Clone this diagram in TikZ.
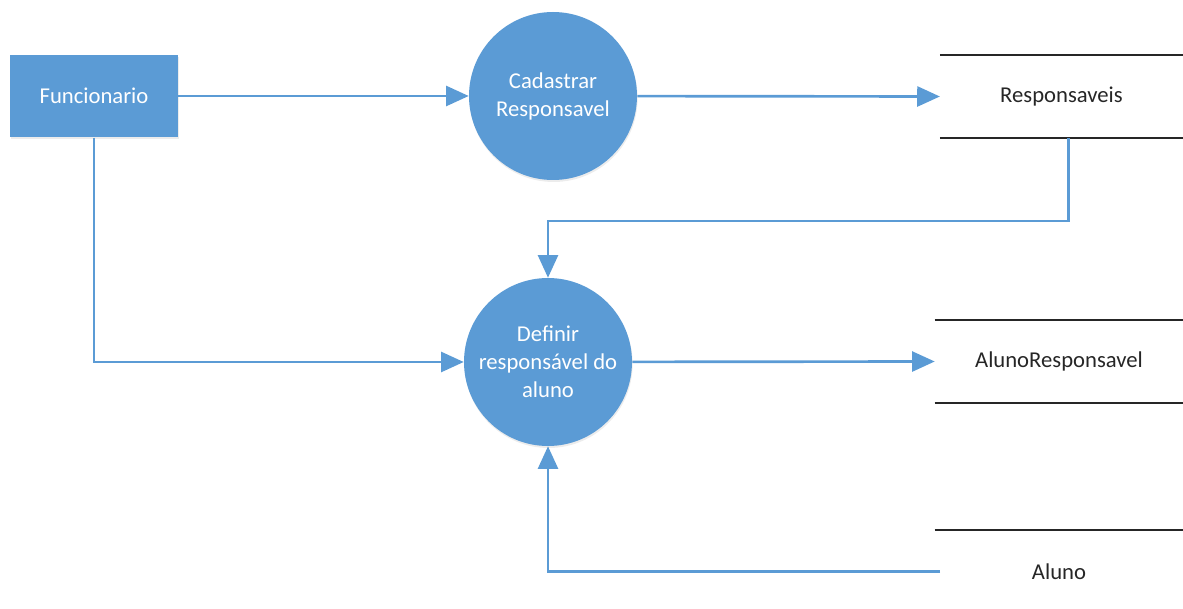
\documentclass[tikz,border=0pt]{standalone}
\usepackage{fontspec}
\setmainfont{Carlito}
\usetikzlibrary{arrows.meta, shadows}

\definecolor{dfdblue}{HTML}{5B9BD5}
\definecolor{storetext}{HTML}{262626}

\tikzset{
	entity/.style = {rectangle, fill = dfdblue, text = white, minimum width = 126pt, minimum height = 62pt, drop shadow = {opacity = 0.15, shadow xshift = 0.5pt, shadow yshift = -1.5pt}},
	process/.style = {circle, fill = dfdblue, text = white, minimum size = 126pt, inner sep = 0pt, align = center, drop shadow = {opacity = 0.15, shadow xshift = 0.5pt, shadow yshift = -1.5pt}},
	store/.style = {rectangle, text = storetext, minimum height = 62pt, inner sep = 0pt},
	storeline/.style = {draw = black!85, line width = 1.3pt},
	flow/.style = {draw = dfdblue, line width = 2pt, -{Triangle[length = 17pt, width = 15pt]}},
}

\begin{document}
\begin{tikzpicture}[x = 0.75pt, y = -0.75pt, font = \fontsize{17}{21}\selectfont]

\useasboundingbox (0, 0) rectangle (1183, 609);

% external entity and processes
\node [entity] (funcionario) at (94, 96) {Funcionario};
\node [process] (cadastrar) at (553, 96) {Cadastrar\\Responsavel};
\node [process] (definir) at (548, 362) {Definir\\responsável do\\aluno};

% data stores
\node [store, minimum width = 182pt] (responsaveis) at (1061.5, 96.5) {Responsaveis};
\node [store, minimum width = 186pt] (alunoresp) at (1059, 361.5) {AlunoResponsavel};
\node [store, minimum width = 186pt] (aluno) at (1059, 571.5) {Aluno};

\draw [storeline] (responsaveis.north west) -- (responsaveis.north east);
\draw [storeline] (responsaveis.south west) -- (responsaveis.south east);
\draw [storeline] (alunoresp.north west) -- (alunoresp.north east);
\draw [storeline] (alunoresp.south west) -- (alunoresp.south east);
\draw [storeline] (aluno.north west) -- (aluno.north east);

% flows
\coordinate (turn) at (800, 221);

\draw [flow] (funcionario) -- (cadastrar);
\draw [flow] (cadastrar) -- (responsaveis.west);
\draw [flow] ([xshift = 5pt] responsaveis.south) |- (turn) -| (definir.north);
\draw [flow] (funcionario.south) |- (definir.west);
\draw [flow] (definir) -- (alunoresp.west);
\draw [flow] ([xshift = 4pt] aluno.west) -| (definir.south);

\end{tikzpicture}
\end{document}
